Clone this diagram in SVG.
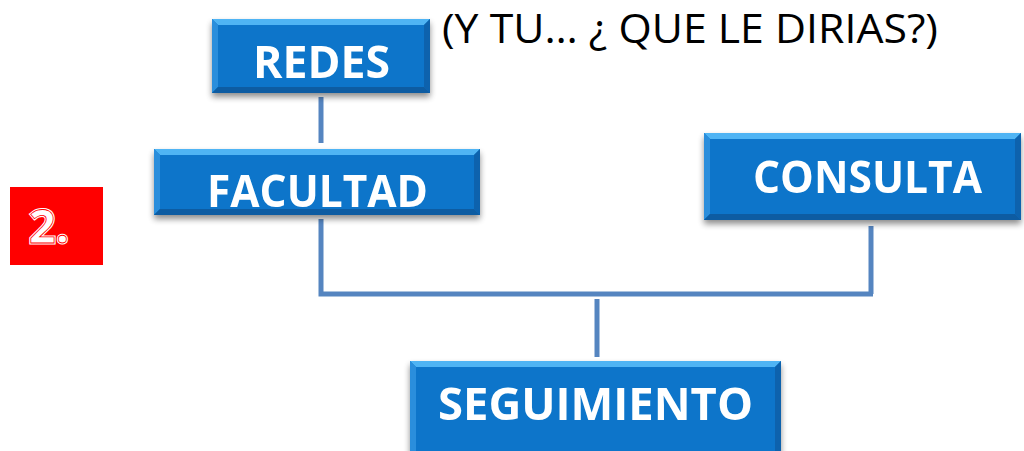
<svg xmlns="http://www.w3.org/2000/svg" width="1024" height="451" viewBox="0 0 1024 451">
<style>
.lbl{font-family:"Open Sans","Liberation Sans",sans-serif;font-weight:bold;font-size:44px;fill:#fff;text-anchor:middle}
.base{fill:#0875CA}
.top{fill:#4FB4F4}
.left{fill:#2C8EDC}
.right{fill:#0A62AD}
.bot{fill:#095BA2}
.conn{stroke:#5585C0;stroke-width:5;fill:none}
</style>
<defs>
<filter id="sh" x="-10%" y="-10%" width="120%" height="140%">
<feGaussianBlur in="SourceAlpha" stdDeviation="3"/>
<feOffset dx="0" dy="4"/>
<feComponentTransfer><feFuncA type="linear" slope="0.45"/></feComponentTransfer>
<feMerge><feMergeNode/><feMergeNode in="SourceGraphic"/></feMerge>
</filter>
</defs>
<rect width="1024" height="451" fill="#fff"/>
<g id="connectors">
<path class="conn" d="M321,97 V143"/>
<path class="conn" d="M321,219 V294 H873"/>
<path class="conn" d="M871,226 V294"/>
<path class="conn" d="M597,299 V357"/>
</g>
<g id="redes" filter="url(#sh)">
<rect class="base" x="212" y="19" width="218" height="74"/>
<polygon class="top" points="212,19 430,19 424,25 218,25"/>
<polygon class="left" points="212,19 218,25 218,87 212,93"/>
<polygon class="right" points="430,19 430,93 424,87 424,25"/>
<polygon class="bot" points="212,93 218,87 424,87 430,93"/>
<text class="lbl" x="321.5" y="78" textLength="137" lengthAdjust="spacingAndGlyphs">REDES</text>
</g>
<g id="facultad" filter="url(#sh)">
<rect class="base" x="154" y="149" width="326" height="66"/>
<polygon class="top" points="154,149 480,149 474,155 160,155"/>
<polygon class="left" points="154,149 160,155 160,209 154,215"/>
<polygon class="right" points="480,149 480,215 474,209 474,155"/>
<polygon class="bot" points="154,215 160,209 474,209 480,215"/>
<text class="lbl" x="317.5" y="207" textLength="221" lengthAdjust="spacingAndGlyphs">FACULTAD</text>
</g>
<g id="consulta" filter="url(#sh)">
<rect class="base" x="704" y="133" width="317" height="87"/>
<polygon class="top" points="704,133 1021,133 1015,139 710,139"/>
<polygon class="left" points="704,133 710,139 710,214 704,220"/>
<polygon class="right" points="1021,133 1021,220 1015,214 1015,139"/>
<polygon class="bot" points="704,220 710,214 1015,214 1021,220"/>
<text class="lbl" x="867.5" y="193" textLength="229" lengthAdjust="spacingAndGlyphs">CONSULTA</text>
</g>
<g id="seguimiento" filter="url(#sh)">
<rect class="base" x="410" y="361" width="371" height="100"/>
<polygon class="top" points="410,361 781,361 775,367 416,367"/>
<polygon class="left" points="410,361 416,367 416,461 410,461"/>
<polygon class="right" points="781,361 781,461 775,461 775,367"/>
<text class="lbl" x="595.5" y="420" textLength="315" lengthAdjust="spacingAndGlyphs">SEGUIMIENTO</text>
</g>
<g id="badge">
<rect x="10" y="187" width="93" height="78" fill="#FF0000"/>
<text x="29" y="243" font-family="'Open Sans','Liberation Sans',sans-serif" font-weight="bold" font-size="47" fill="#fff" stroke="#fff" stroke-width="3" textLength="40" lengthAdjust="spacingAndGlyphs">2.</text>
<text x="29" y="243" font-family="'Open Sans','Liberation Sans',sans-serif" font-weight="bold" font-size="47" fill="none" stroke="#FF0000" stroke-width="0.8" textLength="40" lengthAdjust="spacingAndGlyphs">2.</text>
</g>
<g id="title">
<text x="442" y="43" font-family="'Open Sans','Liberation Sans',sans-serif" font-size="40" fill="#000" textLength="496" lengthAdjust="spacingAndGlyphs">(Y TU… ¿ QUE LE DIRIAS?)</text>
</g>
</svg>
